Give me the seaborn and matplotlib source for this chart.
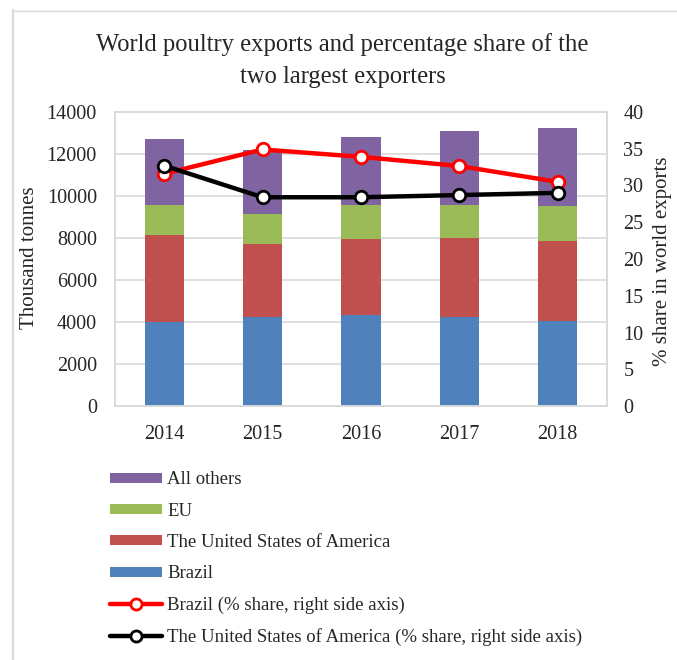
import numpy as np
import pandas as pd
import matplotlib
matplotlib.use("Agg")
import matplotlib.pyplot as plt
from matplotlib.patches import Patch
from matplotlib.lines import Line2D
import seaborn as sns

years = ["2014", "2015", "2016", "2017", "2018"]
brazil = [4014, 4222, 4317, 4254, 4032]
usa = [4143, 3508, 3651, 3762, 3841]
eu = [1414, 1413, 1588, 1571, 1651]
others = [3143, 3063, 3238, 3524, 3698]
brazil_share = [31.6, 34.9, 33.9, 32.65, 30.5]
usa_share = [32.7, 28.4, 28.4, 28.7, 29.0]

sns.set_style("white")
plt.rcParams['font.family'] = ['Liberation Serif', 'DejaVu Serif']

C_BR, C_US, C_EU, C_OT = "#4F81BD", "#C0504D", "#9BBB59", "#8064A2"
GRID = "#d9d9d9"
W, H = 677, 660

df = pd.DataFrame({"year": years, "Brazil": brazil, "USA": usa, "EU": eu, "Others": others})
df["c1"] = df["Brazil"]
df["c2"] = df["c1"] + df["USA"]
df["c3"] = df["c2"] + df["EU"]
df["c4"] = df["c3"] + df["Others"]

fig = plt.figure(figsize=(6.77, 6.60), dpi=100)
ax = fig.add_axes([115/W, 1-406/H, (606.7-115)/W, (406-112)/H])

for col, colr in [("c4", C_OT), ("c3", C_EU), ("c2", C_US), ("c1", C_BR)]:
    sns.barplot(data=df, x="year", y=col, color=colr, width=0.4, saturation=1,
                ax=ax, linewidth=0, zorder=2)

ax.set_ylim(0, 14000)
ax.set_yticks(np.arange(0, 14001, 2000))
ax.set_xlim(-0.5, 4.5)
ax.yaxis.grid(True, color=GRID, linewidth=1.2, zorder=0)
ax.set_axisbelow(True)
for s in ax.spines.values():
    s.set_color(GRID)
    s.set_linewidth(1.2)
ax.tick_params(axis='both', length=0, labelsize=14.5)
ax.tick_params(axis='y', pad=13)
ax.tick_params(axis='x', pad=14)
ax.set_xlabel("")
ax.set_ylabel("")
fig.text(30/W, 1-258/H, "Thousand tonnes", rotation=90, ha='center', va='center', fontsize=15)

ax2 = ax.twinx()
sh = pd.DataFrame({"year": years, "br": brazil_share, "us": usa_share})
sns.pointplot(data=sh, x="year", y="br", color="#FF0000", ax=ax2,
              markers="o", markersize=9, linewidth=3.2,
              markerfacecolor="white", markeredgecolor="#FF0000", markeredgewidth=2)
sns.pointplot(data=sh, x="year", y="us", color="black", ax=ax2,
              markers="o", markersize=9, linewidth=3.2,
              markerfacecolor="white", markeredgecolor="black", markeredgewidth=2)
ax2.set_ylim(0, 40)
ax2.set_yticks(np.arange(0, 41, 5))
ax2.set_xlim(-0.5, 4.5)
ax2.tick_params(axis='y', length=0, labelsize=14.5, pad=12)
ax2.set_xlabel("")
ax2.set_ylabel("")
for s in ax2.spines.values():
    s.set_color(GRID)
    s.set_linewidth(1.2)
fig.text(663/W, 1-261/H, "% share in world exports", rotation=90, ha='center', va='center',
         fontsize=15)

fig.text(0.5 + 4/W, 1-51/H, "World poultry exports and percentage share of the",
         ha='center', va='baseline', fontsize=17.7)
fig.text(0.5 + 4/W, 1-83/H, "two largest exporters", ha='center', va='baseline', fontsize=17.7)

handles = [
    Patch(facecolor=C_OT, edgecolor='none'),
    Patch(facecolor=C_EU, edgecolor='none'),
    Patch(facecolor=C_US, edgecolor='none'),
    Patch(facecolor=C_BR, edgecolor='none'),
    Line2D([], [], color="#FF0000", lw=3.2, marker='o', markersize=8,
           markerfacecolor='white', markeredgecolor="#FF0000", markeredgewidth=2),
    Line2D([], [], color="black", lw=3.2, marker='o', markersize=8,
           markerfacecolor='white', markeredgecolor="black", markeredgewidth=2),
]
labels = ["All others", "EU", "The United States of America", "Brazil",
          "Brazil (% share, right side axis)",
          "The United States of America (% share, right side axis)"]
fig.legend(handles, labels, loc='upper left', bbox_to_anchor=(110/W, 1-471.5/H),
           frameon=False, fontsize=13.5, handlelength=2.77, handleheight=0.45,
           handletextpad=0.27, labelspacing=0.76, borderaxespad=0, borderpad=0)

fig.add_artist(Line2D([13/W, 13/W], [0, 1-10/H], transform=fig.transFigure,
                      color=GRID, linewidth=1.6))
fig.add_artist(Line2D([12/W, 1], [1-10.5/H, 1-10.5/H], transform=fig.transFigure,
                      color=GRID, linewidth=1.0))

fig.savefig("out.png", dpi=100)
